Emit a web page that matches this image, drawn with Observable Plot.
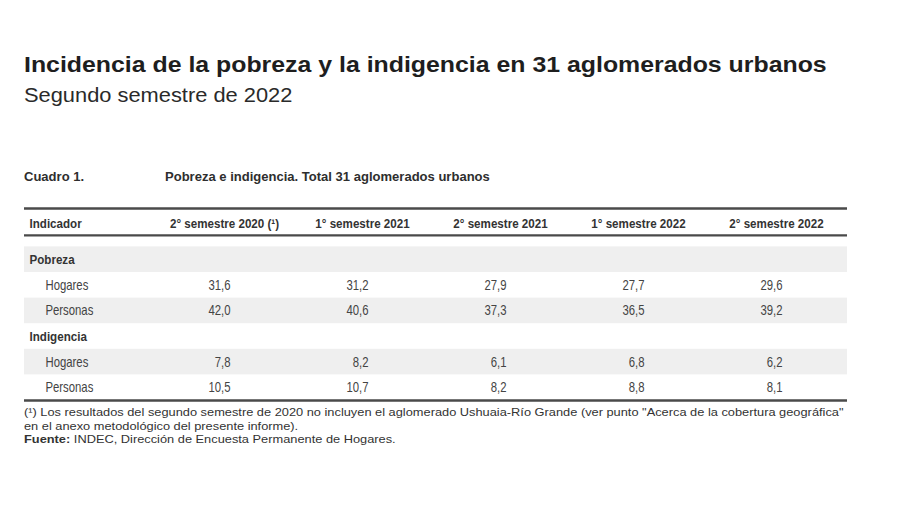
<!DOCTYPE html>
<html>
<head>
<meta charset="utf-8">
<script src="https://cdn.jsdelivr.net/npm/d3@7"></script>
<script src="https://cdn.jsdelivr.net/npm/@observablehq/plot@0.6"></script>
<style>
  html, body { margin: 0; padding: 0; background: #fff; }
  body { width: 900px; height: 505px; position: relative; overflow: hidden; font-family: "Liberation Sans", Arial, sans-serif; }
  .abs { position: absolute; white-space: nowrap; transform-origin: 0 0; }
  #title { left: 24px; top: 52px; font-size: 22px; font-weight: bold; color: #1e1e1e; transform: scaleX(1.13); }
  #subtitle { left: 24px; top: 84px; font-size: 19.5px; color: #2a2a2a; transform: scaleX(1.12); }
  #cuadro { left: 24px; top: 169px; font-size: 13.5px; font-weight: bold; color: #2e2e2e; transform: scaleX(0.965); }
  #cuadroTitle { left: 165px; top: 169px; font-size: 13.5px; font-weight: bold; color: #2e2e2e; transform: scaleX(0.965); }
  #chart { position: absolute; left: 0; top: 195px; }
  #notes { left: 24px; top: 406px; font-size: 11.3px; line-height: 13.5px; color: #333; transform: scaleX(1.134); }
</style>
</head>
<body>
<div id="title" class="abs"></div>
<div id="subtitle" class="abs"></div>
<div id="cuadro" class="abs"></div>
<div id="cuadroTitle" class="abs"></div>
<div id="chart"></div>
<div id="notes" class="abs"></div>
<script>
// ---- data ----
const title = "Incidencia de la pobreza y la indigencia en 31 aglomerados urbanos";
const subtitle = "Segundo semestre de 2022";
const cuadroLabel = "Cuadro 1.";
const cuadroTitle = "Pobreza e indigencia. Total 31 aglomerados urbanos";
const firstHeader = "Indicador";
const columns = ["2° semestre 2020 (¹)", "1° semestre 2021", "2° semestre 2021", "1° semestre 2022", "2° semestre 2022"];
const groups = ["Pobreza", "Indigencia"];
const indicators = ["Hogares", "Personas"];
const pobrezaHogares = [31.6, 31.2, 27.9, 27.7, 29.6];
const pobrezaPersonas = [42.0, 40.6, 37.3, 36.5, 39.2];
const indigenciaHogares = [7.8, 8.2, 6.1, 6.8, 6.2];
const indigenciaPersonas = [10.5, 10.7, 8.2, 8.8, 8.1];
const noteLine1 = "(¹) Los resultados del segundo semestre de 2020 no incluyen el aglomerado Ushuaia-Río Grande (ver punto \"Acerca de la cobertura geográfica\"";
const noteLine2 = "en el anexo metodológico del presente informe).";
const sourceLabel = "Fuente:";
const sourceText = " INDEC, Dirección de Encuesta Permanente de Hogares.";

// ---- texts ----
document.getElementById("title").textContent = title;
document.getElementById("subtitle").textContent = subtitle;
document.getElementById("cuadro").textContent = cuadroLabel;
document.getElementById("cuadroTitle").textContent = cuadroTitle;
const notes = document.getElementById("notes");
const l1 = document.createElement("div"); l1.textContent = noteLine1; notes.appendChild(l1);
const l2 = document.createElement("div"); l2.textContent = noteLine2; notes.appendChild(l2);
const l3 = document.createElement("div");
const b = document.createElement("b"); b.textContent = sourceLabel; l3.appendChild(b);
l3.appendChild(document.createTextNode(sourceText)); notes.appendChild(l3);

// ---- table build ----
const series = {Pobreza: [pobrezaHogares, pobrezaPersonas], Indigencia: [indigenciaHogares, indigenciaPersonas]};
const groupRows = [], indicatorRows = [], cells = [];
let r = 0;
for (const g of groups) {
  groupRows.push({row: r, label: g});
  r++;
  indicators.forEach((ind, k) => {
    indicatorRows.push({row: r, label: ind});
    series[g][k].forEach((v, c) => cells.push({row: r, col: columns[c], value: v}));
    r++;
  });
}
const nRows = r;
const stripes = d3.range(nRows).filter(i => i % 2 === 0);
const fmt = v => v.toFixed(1).replace(".", ",");
const headerTop = -1.5, headerBottom = -0.45;
const headerY = headerBottom - 0.45;

const font = "'Liberation Sans', Arial, sans-serif";
const left = 153, tableLeft = 24;

const plot = Plot.plot({
  width: 900,
  height: 215,
  marginLeft: left,
  marginRight: 53,
  marginTop: 13,
  marginBottom: 10,
  style: {fontFamily: font, background: "transparent", overflow: "visible"},
  x: {type: "band", domain: columns, padding: 0, axis: null},
  y: {domain: [headerTop, nRows], reverse: true, axis: null},
  marks: [
    Plot.rect(stripes, {y1: d => d, y2: d => d + 1, fill: "#efefef", insetLeft: tableLeft - left}),
    Plot.ruleY([headerTop, headerBottom, nRows], {stroke: "#4a4a4a", strokeWidth: 2.4, insetLeft: tableLeft - left}),
    Plot.text([firstHeader], {y: () => headerY, text: d => d, frameAnchor: "left", textAnchor: "start", dx: tableLeft + 5 - left, fontWeight: "bold", fontSize: 13.5, fill: "#333"}),
    Plot.text(columns, {x: d => d, y: () => headerY, text: d => d, fontWeight: "bold", fontSize: 13.5, fill: "#333"}),
    Plot.text(groupRows, {y: d => d.row + 0.5, text: "label", frameAnchor: "left", textAnchor: "start", dx: tableLeft + 5 - left, fontWeight: "bold", fontSize: 13.5, fill: "#333"}),
    Plot.text(indicatorRows, {y: d => d.row + 0.5, text: "label", frameAnchor: "left", textAnchor: "start", dx: tableLeft + 21 - left, fontSize: 14, fill: "#444"}),
    Plot.text(cells, {x: "col", y: d => d.row + 0.5, text: d => fmt(d.value), textAnchor: "end", dx: 6, fontSize: 14, fill: "#444"})
  ]
});

// condense the table glyphs horizontally (the source table uses a condensed face)
plot.querySelectorAll('g[aria-label="text"]').forEach(g => {
  const bold = g.getAttribute("font-weight") === "bold";
  const s = bold ? 0.86 : 0.81;
  g.querySelectorAll("text").forEach(t => {
    const tr = t.getAttribute("transform") || "";
    const x = t.getAttribute("x");
    if (x != null) t.setAttribute("x", +x / s);
    t.setAttribute("transform", (tr + ` scale(${s},1)`).trim());
  });
});
document.getElementById("chart").appendChild(plot);
</script>
</body>
</html>
